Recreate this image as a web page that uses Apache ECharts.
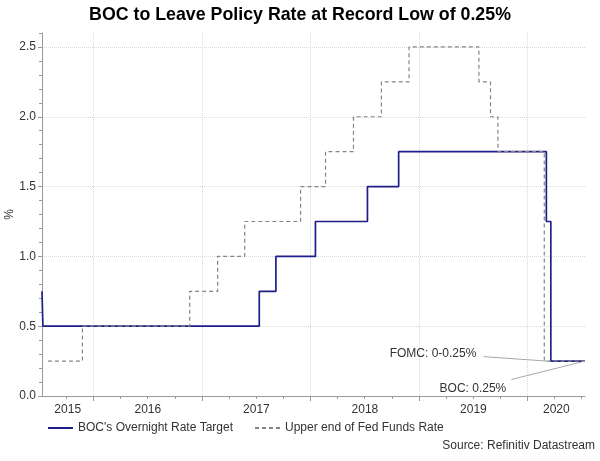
<!DOCTYPE html>
<html><head><meta charset="utf-8">
<script src="https://cdn.jsdelivr.net/npm/echarts@6/dist/echarts.min.js"></script>
<style>html,body{margin:0;padding:0;background:#fff}#c{width:600px;height:461px}</style>
</head><body><div id="c"></div>
<script>
// ---- data ----
const axisStart = '2015-07-12';
const axisEnd = '2020-07-12';
const years = [2015, 2016, 2017, 2018, 2019, 2020];
const seriesNames = ["BOC's Overnight Rate Target", 'Upper end of Fed Funds Rate'];

const bocDates = ['2015-07-12','2015-07-15','2017-07-12','2017-09-06','2018-01-17','2018-07-11','2018-10-24','2020-03-04','2020-03-19','2020-07-12'];
const bocRates = [0.75, 0.5, 0.75, 1.0, 1.25, 1.5, 1.75, 1.25, 0.25, 0.25];

const fedDates = ['2015-08-01','2015-11-25','2016-11-20','2017-02-22','2017-05-24','2017-11-28','2018-02-20','2018-05-25','2018-08-27','2018-11-28','2019-07-21','2019-08-29','2019-09-23','2020-02-26','2020-07-12'];
const fedRates = [0.25, 0.5, 0.75, 1.0, 1.25, 1.5, 1.75, 2.0, 2.25, 2.5, 2.25, 2.0, 1.75, 0.25, 0.25];

const noteTexts = ['FOMC: 0-0.25%', 'BOC: 0.25%'];
const noteFrom = [['2019-08-05', 0.282], ['2019-11-07', 0.118]];
const noteTo = [['2020-03-07', 0.25], ['2020-07-12', 0.25]];

// ---- build ----
const P = s => Date.UTC(+s.slice(0, 4), +s.slice(5, 7) - 1, +s.slice(8, 10));
const tMin = P(axisStart), tMax = P(axisEnd);
const yearStarts = years.map(y => P(y + '-01-01')).filter(t => t > tMin && t < tMax);
const quarterStarts = [];
years.forEach(y => ['01','04','07','10'].forEach(m => {
  const t = P(y + '-' + m + '-01');
  if (t > tMin && t < tMax) quarterStarts.push(t);
}));
const labelMids = years.map(y => {
  const a = Math.max(tMin, P(y + '-01-01'));
  const b = Math.min(tMax, P((y + 1) + '-01-01'));
  return (a + b) / 2;
});

const noteStyles = [
  {distance: 7, offset: [0, -2.5]},
  {distance: 5, offset: [0, 9.5]}
];
const FONT = 'Liberation Sans, Arial, sans-serif';
const axisGray = '#9a9a9a';
const gridCol = '#d3dbd3';
const txt = '#333';

const chart = echarts.init(document.getElementById('c'), null, {renderer: 'canvas'});
chart.setOption({
  animation: false,
  backgroundColor: '#fff',
  textStyle: {fontFamily: FONT},
  title: [
    {text: 'BOC to Leave Policy Rate at Record Low of 0.25%', left: 'center', top: 1,
     textStyle: {fontSize: 17.8, fontWeight: 'bold', color: '#000', fontFamily: FONT}},
    {text: 'Source: Refinitiv Datastream', right: 0, top: 435,
     textStyle: {fontSize: 12, fontWeight: 'normal', color: txt, fontFamily: FONT}}
  ],
  legend: {
    left: 42, top: 417, itemWidth: 25, itemHeight: 10, itemGap: 21,
    itemStyle: {opacity: 0},
    textStyle: {fontSize: 12, color: txt, fontFamily: FONT},
    data: seriesNames
  },
  grid: {left: 42, right: 15, top: 33, bottom: 65, containLabel: false, outerBoundsMode: 'none'},
  xAxis: [
    {type: 'value', min: tMin, max: tMax, position: 'bottom', scale: true,
     axisLine: {show: true, onZero: false, lineStyle: {color: axisGray, width: 1}},
     axisTick: {show: true, customValues: yearStarts, length: 5, lineStyle: {color: axisGray}},
     axisLabel: {show: false},
     splitLine: {show: true, lineStyle: {type: 'dotted', color: gridCol, width: 1}}},
    {type: 'value', min: tMin, max: tMax, position: 'bottom', scale: true,
     axisLine: {show: false, onZero: false},
     axisTick: {show: true, customValues: quarterStarts, length: 3, lineStyle: {color: axisGray}},
     axisLabel: {show: true, customValues: labelMids, margin: 8, fontSize: 12, color: txt, fontFamily: FONT,
       formatter: v => String(new Date(v).getUTCFullYear())},
     splitLine: {show: false}}
  ],
  yAxis: [
    {type: 'value', min: 0, max: 2.6, interval: 0.5, position: 'left',
     name: '%', nameLocation: 'middle', nameGap: 26, nameRotate: 90, nameMoveOverlap: false,
     nameTextStyle: {fontSize: 12, color: txt, fontFamily: FONT},
     axisLine: {show: true, lineStyle: {color: axisGray, width: 1}},
     axisTick: {show: true, length: 4, lineStyle: {color: axisGray}},
     axisLabel: {fontSize: 12, color: txt, margin: 6, showMaxLabel: false, fontFamily: FONT,
       formatter: v => v.toFixed(1)},
     splitLine: {show: true, showMaxLine: false, lineStyle: {type: 'dotted', color: gridCol, width: 1}}},
    {type: 'value', min: 0, max: 2.6, interval: 0.1, position: 'left',
     axisLine: {show: false}, axisTick: {show: true, length: 3, lineStyle: {color: axisGray}},
     axisLabel: {show: false}, splitLine: {show: false}}
  ],
  series: [
    {name: seriesNames[0], type: 'line', step: 'end', symbol: 'none', xAxisIndex: 0, yAxisIndex: 0,
     data: bocDates.map((d, i) => [P(d), bocRates[i]]),
     lineStyle: {color: '#1e1e8a', width: 1.7}, itemStyle: {color: '#1e1e8a'},
     markLine: {silent: true, symbol: ['none', 'none'], animation: false,
       label: {show: false},
       lineStyle: {color: '#a8a8a8', width: 1, type: 'solid'},
       data: noteFrom.map((f, i) => [{coord: [P(f[0]), f[1]]}, {coord: [P(noteTo[i][0]), noteTo[i][1]]}])},
     markPoint: {silent: true, symbol: 'circle', symbolSize: 0, animation: false,
       data: noteFrom.map((f, i) => ({coord: [P(f[0]), f[1]], value: noteTexts[i],
         label: {show: true, position: 'left', distance: noteStyles[i].distance, offset: noteStyles[i].offset,
           formatter: noteTexts[i], color: txt, fontSize: 12, fontFamily: FONT}}))}},
    {name: seriesNames[1], type: 'line', step: 'end', symbol: 'none', xAxisIndex: 0, yAxisIndex: 0,
     data: fedDates.map((d, i) => [P(d), fedRates[i]]),
     lineStyle: {color: '#858585', width: 1.2, type: [4, 3]}, itemStyle: {color: '#858585'}}
  ]
});
</script></body></html>
